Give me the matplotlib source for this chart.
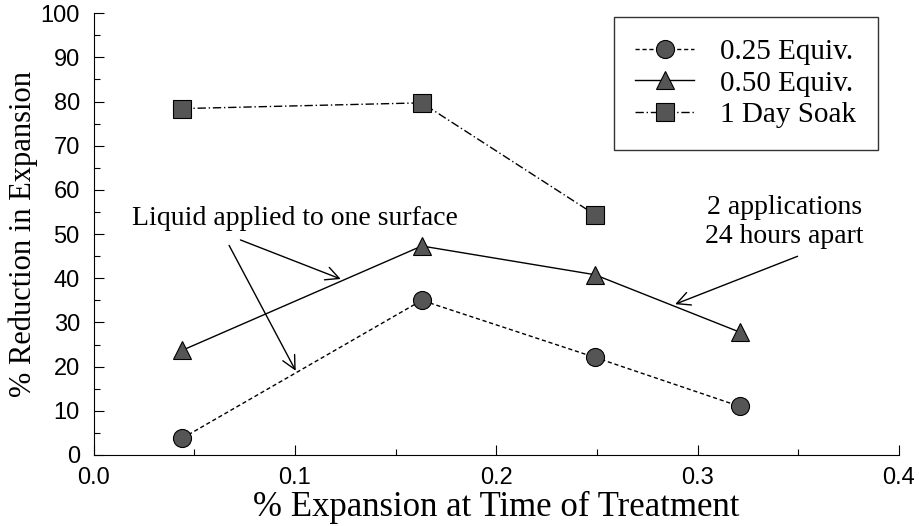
import matplotlib.pyplot as plt
from matplotlib.ticker import MultipleLocator

# data
x_025 = [0.044, 0.163, 0.249, 0.321]
y_025 = [3.8, 35.0, 22.1, 11.0]
x_050 = [0.044, 0.163, 0.249, 0.321]
y_050 = [23.7, 47.3, 40.8, 27.8]
x_soak = [0.044, 0.163, 0.249]
y_soak = [78.4, 79.7, 54.4]
labels = ['0.25 Equiv.', '0.50 Equiv.', '1 Day Soak']
xticks = [0, 0.1, 0.2, 0.3, 0.4]
xtick_labels = ['0.0', '0.1', '0.2', '0.3', '0.4']
yticks = list(range(0, 101, 10))

serif = 'Liberation Serif'
sans = 'Liberation Sans'
face = '#555555'

fig = plt.figure(figsize=(9.19, 5.26), dpi=100)
ax = fig.add_axes([0.102, 0.135, 0.876, 0.84])

ax.plot(x_025, y_025, linestyle=(0, (3, 2)), color='black', lw=1.0,
        marker='o', ms=13, mfc=face, mec='black', mew=0.8, label=labels[0])
ax.plot(x_050, y_050, linestyle='-', color='black', lw=1.0,
        marker='^', ms=13, mfc=face, mec='black', mew=0.8, label=labels[1])
ax.plot(x_soak, y_soak, linestyle=(0, (6, 2, 1, 2)), color='black', lw=1.0,
        marker='s', ms=13, mfc=face, mec='black', mew=0.8, label=labels[2])

ax.set_xlim(0, 0.4)
ax.set_ylim(0, 100)
ax.xaxis.set_minor_locator(MultipleLocator(0.05))
ax.yaxis.set_minor_locator(MultipleLocator(5))
ax.tick_params(which='both', direction='in', width=0.8)
ax.tick_params(which='major', length=7)
ax.tick_params(which='minor', length=4)
ax.tick_params(axis='x', which='major', pad=9)
ax.tick_params(axis='y', which='major', pad=10)
ax.set_xticks(xticks)
ax.set_xticklabels(xtick_labels, fontfamily=sans, fontsize=17)
ax.set_yticks(yticks)
ax.set_yticklabels([str(v) for v in yticks], fontfamily=sans, fontsize=17)

for s in ['top', 'right']:
    ax.spines[s].set_visible(False)

ax.set_xlabel('% Expansion at Time of Treatment', fontfamily=serif, fontsize=25, labelpad=1)
ax.set_ylabel('% Reduction in Expansion', fontfamily=serif, fontsize=22, labelpad=2)

leg = ax.legend(loc='upper right', bbox_to_anchor=(0.985, 1.012), prop={'family': serif, 'size': 21},
                frameon=True, fancybox=False, edgecolor='black', handlelength=2.0,
                borderpad=0.75, labelspacing=0.18, handletextpad=0.9, borderaxespad=0.3)
leg.get_frame().set_linewidth(1.0)

arrow = dict(arrowstyle='->', color='black', lw=1.0, mutation_scale=24)
ax.text(0.019, 53.5, 'Liquid applied to one surface', fontfamily=serif, fontsize=20,
        va='center', ha='left')
ax.annotate('', xy=(0.124, 39.6), xytext=(0.0716, 48.9), arrowprops=arrow)
ax.annotate('', xy=(0.101, 18.5), xytext=(0.0666, 48.0), arrowprops=arrow)

ax.text(0.343, 52.7, '2 applications\n24 hours apart', fontfamily=serif, fontsize=20,
        va='center', ha='center', linespacing=1.2)
ax.annotate('', xy=(0.2876, 33.9), xytext=(0.351, 45.2), arrowprops=arrow)

fig.savefig('out.png', dpi=100)
